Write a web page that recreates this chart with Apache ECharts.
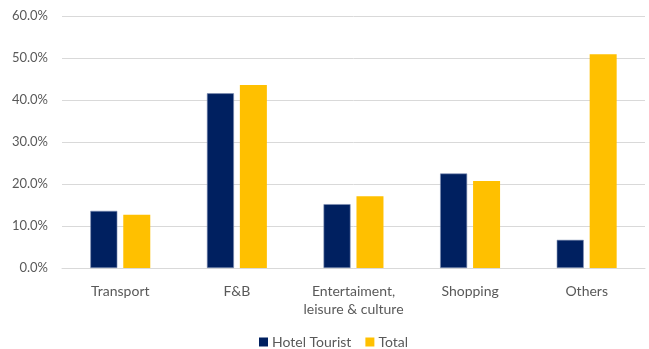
<!DOCTYPE html>
<html>
<head>
<meta charset="utf-8">
<script src="https://cdn.jsdelivr.net/npm/echarts@6/dist/echarts.min.js"></script>
<style>
  html, body { margin: 0; padding: 0; background: #fff; }
  #chart { width: 649px; height: 349px; }
</style>
</head>
<body>
<div id="chart"></div>
<script>
// Spending share by category (%)
const categories = ['Transport', 'F&B', 'Entertaiment,\nleisure & culture', 'Shopping', 'Others'];
const hotelTourist = [13.6, 41.6, 15.2, 22.5, 6.7];
const total = [12.7, 43.6, 17.1, 20.7, 50.9];
const yTicks = { min: 0, max: 60, interval: 10 };

const textColor = '#595959';
const fontFamily = 'Lato, "Open Sans", sans-serif';

const chart = echarts.init(document.getElementById('chart'), null, { renderer: 'canvas' });
chart.setOption({
  animation: false,
  textStyle: { fontFamily: fontFamily },
  grid: { left: 62, right: 4, top: 16, bottom: 81, containLabel: false },
  legend: {
    bottom: 0,
    left: 259,
    padding: 0,
    itemWidth: 9,
    itemHeight: 9,
    itemGap: 14,
    icon: 'rect',
    itemStyle: { borderWidth: 0 },
    textStyle: { color: textColor, fontSize: 14, fontFamily: fontFamily, padding: [0, 0, 0, -1] },
    data: ['Hotel Tourist', 'Total']
  },
  xAxis: {
    type: 'category',
    data: categories,
    axisLine: { show: true, lineStyle: { color: '#d9d9d9', width: 1 } },
    axisTick: { show: false },
    axisLabel: {
      color: textColor,
      fontSize: 14,
      fontFamily: fontFamily,
      margin: 14,
      lineHeight: 18,
      interval: 0
    }
  },
  yAxis: {
    type: 'value',
    min: yTicks.min,
    max: yTicks.max,
    interval: yTicks.interval,
    axisLine: { show: false },
    axisTick: { show: false },
    splitLine: { lineStyle: { color: '#d9d9d9', width: 1 } },
    axisLabel: {
      color: textColor,
      fontSize: 13,
      fontFamily: fontFamily,
      margin: 14,
      formatter: v => v.toFixed(1) + '%'
    }
  },
  series: [
    {
      name: 'Hotel Tourist',
      type: 'bar',
      data: hotelTourist,
      barWidth: 27,
      barGap: '22%',
      itemStyle: { color: '#002060', borderColor: '#7d8fb3', borderWidth: 0.6 }
    },
    {
      name: 'Total',
      type: 'bar',
      data: total,
      barWidth: 27,
      itemStyle: { color: '#FFC000' }
    }
  ]
});
</script>
</body>
</html>
